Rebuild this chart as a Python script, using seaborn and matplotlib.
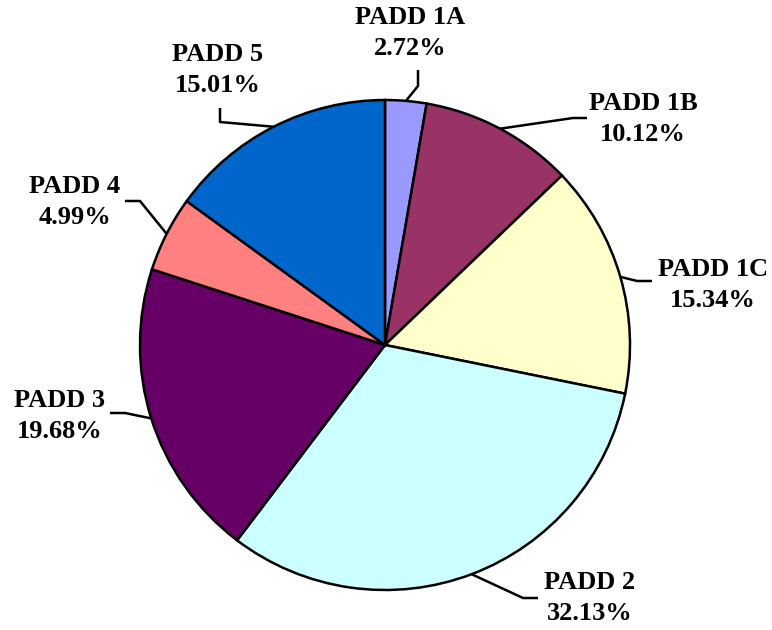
import numpy as np
import matplotlib
matplotlib.use("Agg")
import matplotlib.pyplot as plt
import seaborn as sns

# ---- data ----
categories = ["PADD 1A", "PADD 1B", "PADD 1C", "PADD 2", "PADD 3", "PADD 4", "PADD 5"]
shares = [2.72, 10.12, 15.34, 32.13, 19.68, 4.99, 15.01]
colors = ["#9999FF", "#993366", "#FFFFCC", "#CCFFFF", "#660066", "#FF8080", "#0066CC"]

# ---- layout (image pixel coords, y down) ----
label_pos = [(410, 33), (643, 119), (713, 285), (590, 598), (60, 416), (75, 202), (218, 70)]
elbow_pos = [(418, 86), (573, 118), (637, 281), (523, 598), (125, 413), (140, 201), (220, 122)]
end_pos = [(418, 70), (587, 118), (652, 281), (538, 598), (110, 413), (125, 201), (220, 108)]

sns.set_theme(style="white")
plt.rcParams["font.family"] = ["Liberation Serif", "DejaVu Serif"]

W, H = 772, 630
fig = plt.figure(figsize=(W / 100, H / 100), dpi=100)
ax = fig.add_axes([0, 0, 1, 1])

cx, cy, r = 385, H - 345, 245
wedges, _ = ax.pie(shares, colors=colors, startangle=90, counterclock=False,
                   center=(cx, cy), radius=r, frame=True,
                   wedgeprops=dict(edgecolor="black", linewidth=1.8))
ax.set_xlim(0, W)
ax.set_ylim(0, H)
ax.set_aspect("equal")
ax.axis("off")

for w, cat, val, lp, ep, pp in zip(wedges, categories, shares, label_pos, elbow_pos, end_pos):
    mid = np.deg2rad((w.theta1 + w.theta2) / 2)
    ax0 = cx + r * np.cos(mid)
    ay0 = cy + r * np.sin(mid)
    ax.plot([ax0, ep[0], pp[0]], [ay0, H - ep[1], H - pp[1]], color="black", lw=1.8,
            solid_capstyle="butt", zorder=5)
    ax.text(lp[0], H - lp[1], f"{cat}\n{val:.2f}%", ha="center", va="center",
            fontsize=19, fontweight="bold", linespacing=1.4, color="black")

fig.savefig("out.png", dpi=100)
